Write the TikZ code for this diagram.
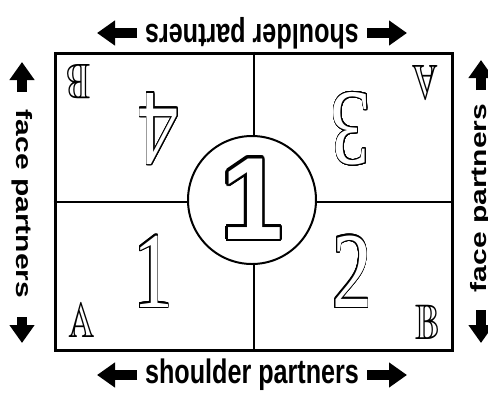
\documentclass[tikz,border=0pt]{standalone}
\usepackage{amssymb}
\usepackage{fontspec}
\usepackage{contour}
\usetikzlibrary{arrows.meta}
\newfontfamily\sidefont{Liberation Sans}
\newfontfamily\digitfont{Liberation Serif}
\contournumber{32}
\newcommand{\hollow}[2][1.2pt]{\contourlength{#1}\textcolor{white}{\contour{black}{#2}}}

\begin{document}
\begin{tikzpicture}[x=1pt,y=-1pt,
  frame/.style={draw,line width=3pt,inner sep=0pt},
  divider/.style={line width=2pt},
  blockarrow/.style={line width=10pt,-{Triangle[length=18pt,width=24pt]}},
  seatnum/.style={inner sep=0pt,font=\digitfont\fontsize{108}{108}\selectfont},
  seatletter/.style={inner sep=0pt,font=\fontsize{50}{50}\selectfont},
  partnerlabel/.style={inner sep=0pt,font=\sidefont\bfseries}]
\useasboundingbox (0,0) rectangle (488,392);

% Board
\node[frame,minimum width=397pt,minimum height=297pt] (board) at (253.5,201.5) {};
\draw[divider] (board.north) -- (board.south);
\draw[divider] (board.west) -- (board.east);

% Team number
\node[circle,draw,line width=2pt,fill=white,minimum size=128pt,inner sep=0pt] (hub) at (252,200) {};
\node[inner sep=0pt,font=\sidefont\bfseries\fontsize{117}{117}\selectfont] (hubnum) at (hub) {\scalebox{0.95}[1]{\hollow[2.5pt]{1}}};

% Seats
\node[seatnum] (seatone) at (153,272) {\scalebox{0.74}[1]{\hollow{1}}};
\node[seatnum] (seattwo) at (352,272) {\scalebox{0.74}[1]{\hollow{2}}};
\node[seatnum,rotate=180] (seatthree) at (351,128) {\scalebox{0.74}[1]{\hollow{3}}};
\node[seatnum,rotate=180] (seatfour) at (159,128) {\scalebox{0.74}[1]{\hollow{4}}};

\node[seatletter] (letterA) at (82,320) {\scalebox{0.74}[1]{$\mathbb{A}$}};
\node[seatletter] (letterB) at (428,322) {\scalebox{0.74}[1]{$\mathbb{B}$}};
\node[seatletter,rotate=180] (letterBtop) at (78,82) {\scalebox{0.74}[1]{$\mathbb{B}$}};
\node[seatletter,rotate=180] (letterAtop) at (425,83) {\scalebox{0.74}[1]{$\mathbb{A}$}};

% Shoulder partners
\node[partnerlabel,font=\sidefont\bfseries\fontsize{34}{34}\selectfont] (shoulderbot) at (252,375) {\scalebox{0.74}[1]{shoulder partners}};
\node[partnerlabel,font=\sidefont\bfseries\fontsize{34}{34}\selectfont,rotate=180] (shouldertop) at (252,33) {\scalebox{0.74}[1]{shoulder partners}};
\draw[blockarrow] ([xshift=-115pt]shoulderbot.center) -- ++(-40,0);
\draw[blockarrow] ([xshift=115pt]shoulderbot.center) -- ++(40,0);
\draw[blockarrow] ([xshift=-115pt]shouldertop.center) -- ++(-40,0);
\draw[blockarrow] ([xshift=115pt]shouldertop.center) -- ++(40,0);

% Face partners
\node[partnerlabel,font=\sidefont\bfseries\fontsize{30}{30}\selectfont,rotate=-90] (faceleft) at (22,204) {\scalebox{1}[0.74]{face partners}};
\node[partnerlabel,font=\sidefont\bfseries\fontsize{30}{30}\selectfont,rotate=90] (faceright) at (481,198) {\scalebox{1}[0.74]{face partners}};
\draw[blockarrow] ([yshift=112pt]faceleft.center) -- ++(0,-30);
\draw[blockarrow] ([yshift=-113pt]faceleft.center) -- ++(0,26);
\draw[blockarrow] ([yshift=108pt]faceright.center) -- ++(0,-30);
\draw[blockarrow] ([yshift=-112pt]faceright.center) -- ++(0,33);
\end{tikzpicture}
\end{document}
